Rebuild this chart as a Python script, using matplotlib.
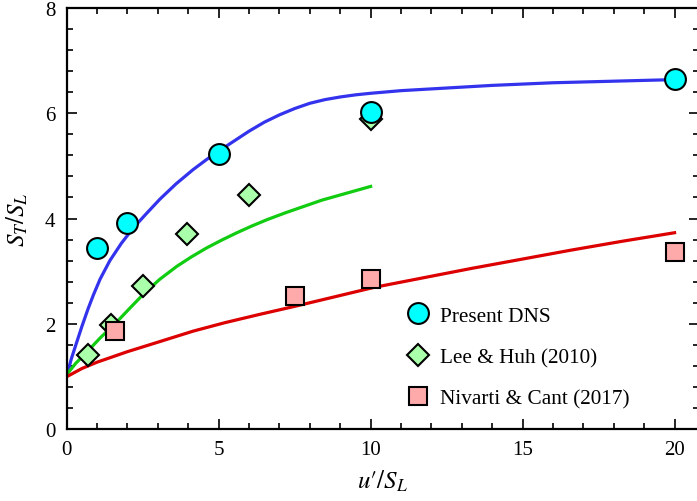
import matplotlib
matplotlib.use("Agg")
import matplotlib.pyplot as plt
from matplotlib.ticker import MultipleLocator

plt.rcParams['font.family'] = ['Liberation Serif', 'DejaVu Serif']
plt.rcParams['mathtext.fontset'] = 'stix'

# Data points
dns_x = [1.0, 2.0, 5.0, 10.0, 20.0]
dns_y = [3.44, 3.92, 5.23, 6.02, 6.66]

lee_x = [0.7, 1.45, 2.5, 3.95, 6.0, 10.0]
lee_y = [1.4, 1.98, 2.72, 3.7, 4.45, 5.9]

niv_x = [1.6, 7.5, 10.0, 20.0]
niv_y = [1.87, 2.52, 2.86, 3.37]

# Curves
blue_x = [0.02, 0.15, 0.33, 0.5, 0.7, 0.88, 1.1, 1.42, 1.8, 2.19, 2.6, 3.07, 3.6, 4.16, 4.6, 5.0, 5.5,
          6.0, 6.5, 7.0, 7.5, 8.0, 8.5, 9.0, 9.5, 10.0, 11.0, 12.5, 14.0, 16.0, 18.0, 20.0]
blue_y = [1.05, 1.33, 1.65, 1.95, 2.28, 2.55, 2.85, 3.2, 3.53, 3.82, 4.08, 4.37, 4.66, 4.93, 5.12, 5.28, 5.47,
          5.66, 5.83, 5.97, 6.09, 6.19, 6.26, 6.31, 6.35, 6.38, 6.43, 6.48, 6.53, 6.58, 6.61, 6.64]

green_x = [0.02, 0.3, 0.66, 1.1, 1.64, 2.1, 2.52, 3.05, 3.62, 4.1, 4.6, 5.1, 5.6, 6.1, 6.6, 7.2, 7.8, 8.4, 9.2, 10.0]
green_y = [1.05, 1.25, 1.46, 1.73, 2.03, 2.31, 2.56, 2.84, 3.09, 3.27, 3.44, 3.59, 3.73, 3.86, 3.98, 4.11, 4.23, 4.35, 4.48, 4.61]

red_x = [0.02, 0.5, 1.0, 2.0, 3.0, 4.16, 5.2, 6.36, 7.57, 8.8, 10.1, 11.7, 13.3, 15.0, 16.6, 18.3, 20.0]
red_y = [1.0, 1.15, 1.27, 1.47, 1.65, 1.86, 2.02, 2.18, 2.34, 2.51, 2.69, 2.87, 3.05, 3.23, 3.40, 3.57, 3.73]

fig = plt.figure(figsize=(6.97, 5.02), dpi=100)
ax = fig.add_axes([0.0957, 0.1434, 0.907, 0.8386])

ax.plot(blue_x, blue_y, color='#3333ee', lw=2.3, zorder=2, solid_joinstyle='round')
ax.plot(green_x, green_y, color='#11cc11', lw=2.3, zorder=2, solid_joinstyle='round')
ax.plot(red_x, red_y, color='#dd0000', lw=2.3, zorder=2, solid_joinstyle='round')

ax.plot(dns_x, dns_y, 'o', ms=15, mfc='#00ffff', mec='black', mew=1.5, ls='none', zorder=4, label='Present DNS')
ax.plot(lee_x, lee_y, 'D', ms=11, mfc='#aaffaa', mec='black', mew=1.5, ls='none', zorder=3, label='Lee & Huh (2010)')
ax.plot(niv_x, niv_y, 's', ms=13, mfc='#ffaaaa', mec='black', mew=1.5, ls='none', zorder=3, label='Nivarti & Cant (2017)')

ax.set_xlim(0, 20.8)
ax.set_ylim(0, 8)
ax.xaxis.set_major_locator(MultipleLocator(5))
ax.xaxis.set_minor_locator(MultipleLocator(1))
ax.yaxis.set_major_locator(MultipleLocator(2))
ax.yaxis.set_minor_locator(MultipleLocator(0.4))
ax.tick_params(which='both', direction='in', top=True, right=True, labelsize=15, width=1.2)
ax.tick_params(which='major', length=7, pad=8)
ax.tick_params(which='minor', length=4)
for s in ax.spines.values():
    s.set_linewidth(1.6)

ax.set_xlabel("$u′/S_L$", fontsize=18, labelpad=6)
ax.set_ylabel(r"$S_T/S_L$", fontsize=18, labelpad=11)

ax.legend(loc='upper left', bbox_to_anchor=(0.539, 0.293), frameon=False, fontsize=15.3,
          numpoints=1, handlelength=1.0, handletextpad=0.55, labelspacing=1.02, borderpad=0, borderaxespad=0)

fig.savefig('out.png', dpi=100)
